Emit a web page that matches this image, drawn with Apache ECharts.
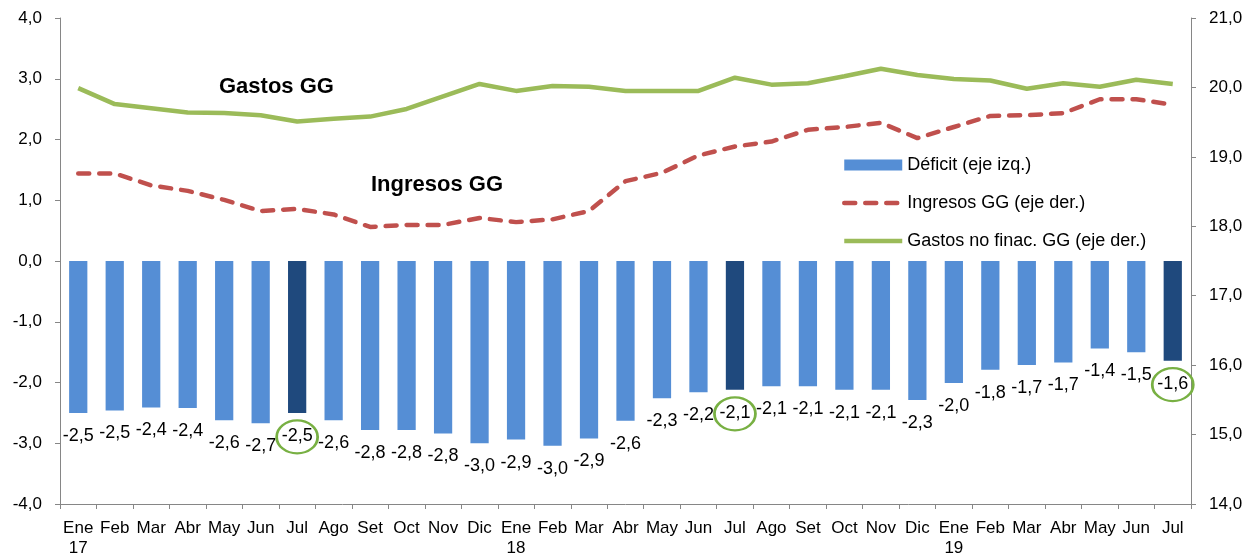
<!DOCTYPE html>
<html>
<head>
<meta charset="utf-8">
<script src="https://cdn.jsdelivr.net/npm/echarts@6/dist/echarts.min.js"></script>
<style>
html,body{margin:0;padding:0;background:#fff;}
#chart{width:1256px;height:555px;}
</style>
</head>
<body>
<div id="chart"></div>
<script>
// ---- data ----
var months = ['Ene','Feb','Mar','Abr','May','Jun','Jul','Ago','Set','Oct','Nov','Dic',
              'Ene','Feb','Mar','Abr','May','Jun','Jul','Ago','Set','Oct','Nov','Dic',
              'Ene','Feb','Mar','Abr','May','Jun','Jul'];
var years = ['17','','','','','','','','','','','',
             '18','','','','','','','','','','','',
             '19','','','','','',''];
var deficit = [-2.50,-2.46,-2.41,-2.42,-2.62,-2.67,-2.50,-2.62,-2.78,-2.78,-2.84,-3.00,
               -2.94,-3.04,-2.92,-2.63,-2.26,-2.16,-2.12,-2.06,-2.06,-2.12,-2.12,-2.29,
               -2.01,-1.79,-1.71,-1.67,-1.44,-1.50,-1.64];
var ingresos = [18.76,18.76,18.59,18.51,18.38,18.22,18.25,18.17,17.99,18.02,18.02,18.12,
                18.06,18.10,18.22,18.65,18.77,19.02,19.15,19.22,19.39,19.43,19.49,19.27,
                19.43,19.59,19.60,19.63,19.83,19.83,19.75];
var gastos = [19.99,19.76,19.70,19.64,19.63,19.60,19.51,19.55,19.58,19.69,19.87,20.05,
              19.95,20.02,20.01,19.95,19.95,19.95,20.14,20.04,20.06,20.16,20.27,20.18,
              20.12,20.10,19.98,20.06,20.01,20.11,20.05];
var leftTicks = {min:-4, max:4, interval:1};
var rightTicks = {min:14, max:21, interval:1};
var highlightMonth = 'Jul';

// ---- build ----
var categories = months.map(function(m, i){ return years[i] ? m + '\n' + years[i] : m; });
var fmt = function(v){ return v.toFixed(1).replace('.', ','); };
var FONT = '"Liberation Sans", Arial, sans-serif';
var BAR = '#558ED5', BAR_DARK = '#1F497D', RED = '#C0504D', GREEN = '#9BBB59';
var redDash = {color:RED, width:4.5, type:[11,10], cap:'round'};
var greenLine = {color:GREEN, width:4.5};
var markData = [];
months.forEach(function(m, i){ if (m === highlightMonth) markData.push({coord:[i, deficit[i]]}); });

var chart = echarts.init(document.getElementById('chart'), null, {renderer:'canvas'});
chart.setOption({
  animation:false,
  backgroundColor:'#ffffff',
  textStyle:{fontFamily:FONT},
  grid:{left:60, right:65, top:18, bottom:51, containLabel:false, outerBoundsMode:'none'},
  legend:{
    orient:'vertical', left:837, top:151, itemWidth:58, itemHeight:11, itemGap:20,
    textStyle:{fontFamily:FONT, fontSize:18, color:'#000'},
    data:[
      {name:'Déficit (eje izq.)', icon:'rect', itemStyle:{color:BAR}},
      {name:'Ingresos GG (eje der.)', itemStyle:{opacity:0}, lineStyle:redDash},
      {name:'Gastos no finac. GG (eje der.)', itemStyle:{opacity:0}, lineStyle:greenLine}
    ]
  },
  xAxis:{
    type:'category', data:categories,
    axisLine:{onZero:false, lineStyle:{color:'#868686', width:1}},
    axisTick:{show:true, alignWithLabel:false, length:5, lineStyle:{color:'#868686'}},
    axisLabel:{interval:0, fontFamily:FONT, fontSize:17, color:'#000', lineHeight:20, margin:14}
  },
  yAxis:[
    {type:'value', min:leftTicks.min, max:leftTicks.max, interval:leftTicks.interval,
     splitLine:{show:false},
     axisLine:{show:true, lineStyle:{color:'#868686'}},
     axisTick:{show:true, length:5, lineStyle:{color:'#868686'}},
     axisLabel:{formatter:fmt, fontFamily:FONT, fontSize:17, color:'#000', margin:18}},
    {type:'value', min:rightTicks.min, max:rightTicks.max, interval:rightTicks.interval,
     splitLine:{show:false},
     axisLine:{show:true, lineStyle:{color:'#868686'}},
     axisTick:{show:true, length:5, lineStyle:{color:'#868686'}},
     axisLabel:{formatter:fmt, fontFamily:FONT, fontSize:17, color:'#000', margin:18}}
  ],
  series:[
    {
      name:'Déficit (eje izq.)', type:'bar', yAxisIndex:0, data:deficit, barWidth:'50%',
      itemStyle:{color:function(p){ return months[p.dataIndex] === highlightMonth ? BAR_DARK : BAR; }},
      label:{show:true, position:'bottom', distance:14, formatter:function(p){ return fmt(p.value); },
             fontFamily:FONT, fontSize:18, color:'#000'},
      markPoint:{
        symbol:'circle', symbolSize:[41,33], symbolOffset:[0,24], silent:true,
        itemStyle:{color:'rgba(0,0,0,0)', borderColor:'#78B043', borderWidth:2.5},
        label:{show:false},
        data:markData
      },
      z:2
    },
    {
      name:'Ingresos GG (eje der.)', type:'line', yAxisIndex:1, data:ingresos,
      symbol:'none', showSymbol:false,
      lineStyle:redDash,
      itemStyle:{color:RED}, z:3
    },
    {
      name:'Gastos no finac. GG (eje der.)', type:'line', yAxisIndex:1, data:gastos,
      symbol:'none', showSymbol:false,
      lineStyle:greenLine,
      itemStyle:{color:GREEN}, z:3
    }
  ],
  graphic:[
    {type:'text', left:219, top:76, style:{text:'Gastos GG', fontFamily:FONT, fontSize:22, fontWeight:'bold', fill:'#000'}},
    {type:'text', left:371, top:174, style:{text:'Ingresos GG', fontFamily:FONT, fontSize:22, fontWeight:'bold', fill:'#000'}}
  ]
});
</script>
</body>
</html>
